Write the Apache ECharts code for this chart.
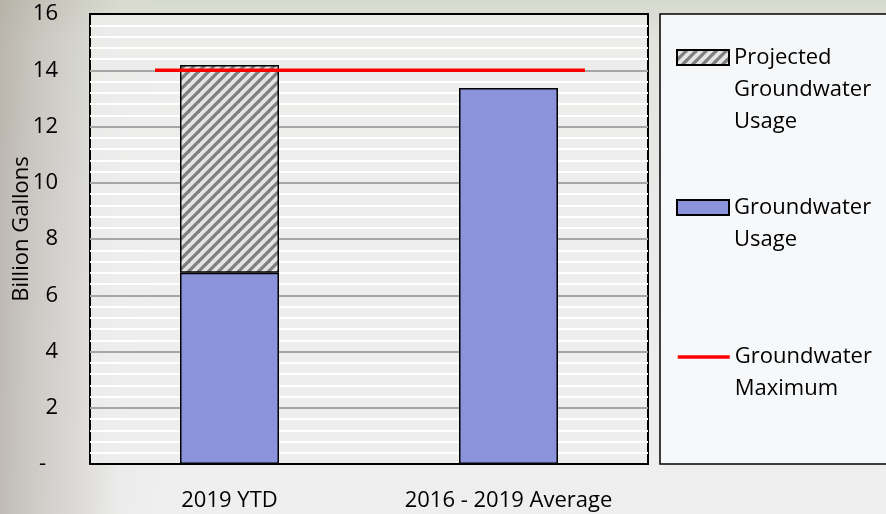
<!DOCTYPE html>
<html><head><meta charset="utf-8">
<script src="https://cdn.jsdelivr.net/npm/echarts@6/dist/echarts.min.js"></script>
<style>
html,body{margin:0;padding:0;width:886px;height:514px;overflow:hidden;}
body{background:
 linear-gradient(to right, rgba(160,152,142,0.6) 0px, rgba(175,168,160,0.5) 35px, rgba(190,186,180,0.4) 75px, rgba(220,220,216,0.15) 120px, rgba(230,230,228,0) 160px),
 linear-gradient(to bottom, #d6d9ce 0px, #e2e4dd 40px, #eaeaea 220px, #efefef 514px);}
#c{width:886px;height:514px;}
</style></head><body><div id="c"></div>
<script>
const categories = ['2019 YTD', '2016 - 2019 Average'];
const usage = [6.80, 13.37];
const projected = [7.39, null];
const maxLine = [[0.233, 14], [1.774, 14]];
const seriesNames = ['Projected Groundwater Usage', 'Groundwater Usage', 'Groundwater Maximum'];
const yMin = 0, yMax = 16, yStep = 2;

const FONT = '"Open Sans", "Noto Sans", sans-serif';

function hatch() {
  const c = document.createElement('canvas');
  c.width = 10; c.height = 10;
  const g = c.getContext('2d');
  g.fillStyle = '#e4e4e4';
  g.fillRect(0, 0, 10, 10);
  g.strokeStyle = '#7f7f7f';
  g.lineWidth = 3.2;
  [[-10, 10, 10, -10], [-5, 15, 15, -5], [0, 20, 20, 0]].forEach(function (l) {
    g.beginPath(); g.moveTo(l[0], l[1]); g.lineTo(l[2], l[3]); g.stroke();
  });
  return { image: c, repeat: 'repeat' };
}

// legend text: blank lines above so the first real line sits beside the icon
function legendText(name) {
  const words = name.split(' ');
  const pad = new Array(words.length - 1).fill(' ');
  return pad.concat(words).join('\n');
}

const chart = echarts.init(document.getElementById('c'), null, { renderer: 'canvas' });
const legendBase = {
  left: 676, orient: 'vertical', padding: 0, selectedMode: false,
  itemWidth: 52, itemHeight: 15,
  formatter: legendText,
  textStyle: { fontFamily: FONT, fontSize: 22, lineHeight: 32, color: '#000' }
};
chart.setOption({
  backgroundColor: 'transparent',
  animation: false,
  grid: {
    left: 90, right: 238, top: 14, bottom: 50,
    outerBoundsMode: 'none', containLabel: false,
    show: true, backgroundColor: 'rgba(238,238,238,0.82)',
    borderColor: '#000', borderWidth: 2
  },
  graphic: [{
    type: 'rect', z: -1, silent: true,
    shape: { x: 660, y: 14, width: 240, height: 450 },
    style: { fill: 'rgba(248,249,251,0.93)', stroke: '#000', lineWidth: 1.5 }
  }],
  legend: [
    Object.assign({}, legendBase, { top: -22.5, data: [{ name: seriesNames[0], icon: 'rect' }] }),
    Object.assign({}, legendBase, { top: 159.5, data: [{ name: seriesNames[1], icon: 'rect' }] }),
    Object.assign({}, legendBase, { top: 309, data: [{ name: seriesNames[2],
      itemStyle: { color: 'rgba(0,0,0,0)', borderWidth: 0, opacity: 0 },
      lineStyle: { color: '#ff0000', width: 3.5 } }] })
  ],
  xAxis: [{
    type: 'category', data: categories,
    axisLine: { show: true, lineStyle: { color: '#000', width: 2 } },
    axisTick: { show: false },
    axisLabel: { fontFamily: FONT, fontSize: 22, color: '#000', margin: 26 },
    splitLine: { show: false }
  }, {
    type: 'value', min: 0, max: 2, show: false
  }],
  yAxis: {
    type: 'value', min: yMin, max: yMax, interval: yStep,
    name: 'Billion Gallons', nameLocation: 'middle', nameGap: 57, nameRotate: 90,
    nameMoveOverlap: false,
    nameTextStyle: { fontFamily: FONT, fontSize: 22, color: '#000', padding: [0, 0, 0, 20] },
    axisLine: { show: false }, axisTick: { show: false },
    axisLabel: {
      fontFamily: FONT, fontSize: 22, color: '#000', margin: 32,
      formatter: function (v) { return v === 0 ? '{d|-}' : String(v); },
      rich: { d: { fontFamily: FONT, fontSize: 22, color: '#000', padding: [0, 12, 0, 0] } }
    },
    splitLine: { show: true, showMinLine: false, showMaxLine: false, lineStyle: { color: '#a6a6a6', width: 2 } },
    minorTick: { show: false, splitNumber: 5 },
    minorSplitLine: { show: true, lineStyle: { color: '#ffffff', width: 2 } }
  },
  series: [{
    name: seriesNames[1], type: 'bar', stack: 'a', data: usage, barWidth: 99,
    itemStyle: { color: '#8b93db', borderColor: '#000', borderWidth: 1.5 }
  }, {
    name: seriesNames[0], type: 'bar', stack: 'a', data: projected, barWidth: 99,
    itemStyle: { color: hatch(), borderColor: '#000', borderWidth: 1.5 }
  }, {
    name: seriesNames[2], type: 'line', xAxisIndex: 1, data: maxLine,
    symbol: 'none', z: 5,
    lineStyle: { color: '#ff0000', width: 3.5 }, itemStyle: { color: '#ff0000' }
  }]
});
</script></body></html>
